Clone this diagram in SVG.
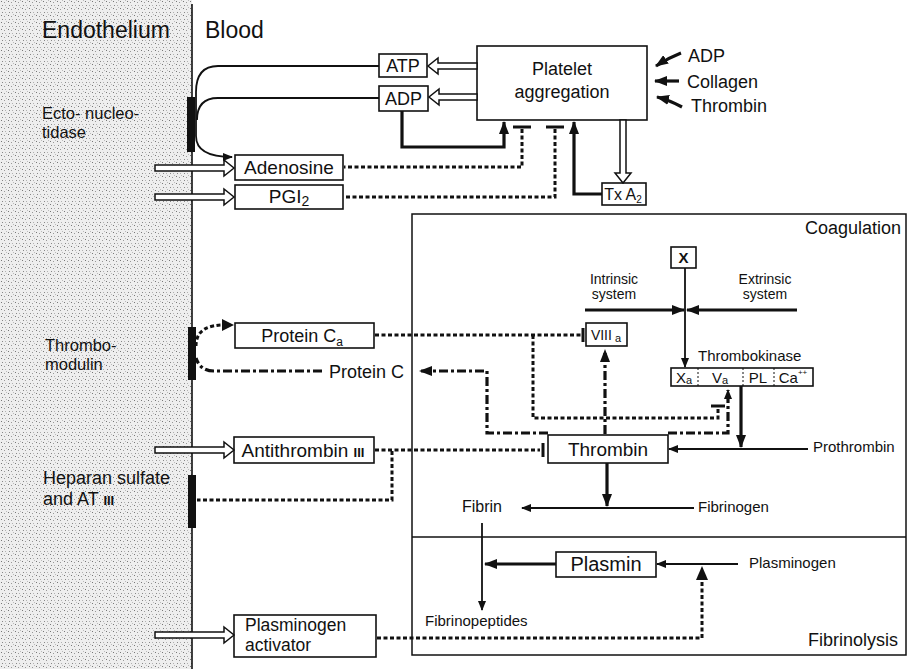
<svg xmlns="http://www.w3.org/2000/svg" width="914" height="669" viewBox="0 0 914 669">
<style>
text{font-family:"Liberation Sans",Arial,Helvetica,sans-serif;fill:#111}
.box{fill:#fff;stroke:#111;stroke-width:1.6}
.thin{fill:none;stroke:#111;stroke-width:1.8}
.thick{fill:none;stroke:#111;stroke-width:3.2}
.dash{fill:none;stroke:#111;stroke-width:3;stroke-dasharray:4 2.5}
.dd{fill:none;stroke:#111;stroke-width:3.2;stroke-dasharray:9 3 3 3}
.hollow{fill:#fff;stroke:#111;stroke-width:1.5;stroke-linejoin:miter}
.bar{fill:#111}
.t{stroke:#111;stroke-width:3}
.c{text-anchor:middle}
</style>
<defs>
<pattern id="stip" width="7" height="7" patternUnits="userSpaceOnUse">
<rect width="7" height="7" fill="#eeeeee"/>
<rect x="1" y="1" width="1" height="1" fill="#777"/>
<rect x="4" y="2" width="1" height="1" fill="#999"/>
<rect x="2" y="5" width="1" height="1" fill="#888"/>
<rect x="5" y="5" width="1" height="1" fill="#b0b0b0"/>
<rect x="6" y="0" width="1" height="1" fill="#bbb"/>
</pattern>
<marker id="ah" viewBox="0 0 13 10" refX="12" refY="5" markerWidth="13" markerHeight="10" orient="auto" markerUnits="userSpaceOnUse"><path d="M0,0 L13,5 L0,10 z" fill="#111"/></marker>
<marker id="as" viewBox="0 0 10 8" refX="9" refY="4" markerWidth="10" markerHeight="8" orient="auto" markerUnits="userSpaceOnUse"><path d="M0,0 L10,4 L0,8 z" fill="#111"/></marker>
</defs>

<!-- Endothelium background -->
<rect x="0" y="0" width="192" height="669" fill="url(#stip)"/>
<line x1="192" y1="4" x2="192" y2="669" stroke="#111" stroke-width="1.6"/>

<g id="header">
<text x="42" y="38" font-size="23">Endothelium</text>
<text x="205" y="38" font-size="23">Blood</text>
</g>

<g id="ecto-nucleotidase">
<text x="42" y="119" font-size="16.5">Ecto- nucleo-</text>
<text x="42" y="138" font-size="16.5">tidase</text>
<rect class="bar" x="187" y="97" width="8" height="55"/>
</g>

<g id="thrombomodulin">
<text x="45" y="351" font-size="16.5">Thrombo-</text>
<text x="45" y="370" font-size="16.5">modulin</text>
<rect class="bar" x="188" y="327" width="8" height="53"/>
</g>

<g id="heparan">
<text x="43" y="484" font-size="18">Heparan sulfate</text>
<text x="43" y="505" font-size="18">and  AT <tspan font-size="13" font-weight="bold">III</tspan></text>
<rect class="bar" x="188" y="475" width="8" height="53"/>
</g>

<g id="atp"><rect class="box" x="379" y="54" width="48" height="23"/><text class="c" x="403" y="72" font-size="18">ATP</text></g>
<g id="adp"><rect class="box" x="379" y="86" width="49" height="25"/><text class="c" x="403.5" y="105" font-size="18">ADP</text></g>
<g id="platelet"><rect class="box" x="477" y="46" width="170" height="74"/>
<text class="c" x="562" y="75" font-size="18">Platelet</text>
<text class="c" x="562" y="98" font-size="18">aggregation</text></g>
<g id="txa2"><rect class="box" x="602" y="183" width="44" height="22"/><text class="c" x="623" y="200" font-size="16">Tx A<tspan font-size="10" dy="3">2</tspan></text></g>
<g id="stimuli">
<text x="688" y="62" font-size="18">ADP</text>
<text x="687" y="88" font-size="18">Collagen</text>
<text x="691" y="112" font-size="18">Thrombin</text>
</g>

<g id="adenosine"><rect class="box" x="235" y="155" width="108" height="25"/><text class="c" x="289" y="174" font-size="19">Adenosine</text></g>
<g id="pgi2"><rect class="box" x="235" y="185" width="108" height="24"/><text class="c" x="289" y="203" font-size="19">PGI<tspan font-size="14" dy="3">2</tspan></text></g>

<g id="coagulation-frame">
<rect x="412" y="214" width="494" height="441" fill="none" stroke="#111" stroke-width="1.5"/>
<line x1="412" y1="537" x2="906" y2="537" stroke="#111" stroke-width="1.5"/>
<text x="901" y="234" font-size="18" text-anchor="end">Coagulation</text>
<text x="898" y="646" font-size="18" text-anchor="end">Fibrinolysis</text>
</g>

<g id="x"><rect class="box" x="671" y="247" width="25" height="21"/><text class="c" x="683.5" y="263" font-size="15" font-weight="bold">X</text></g>
<g id="intrinsic"><text class="c" x="614" y="284" font-size="14">Intrinsic</text><text class="c" x="614" y="299" font-size="14">system</text></g>
<g id="extrinsic"><text class="c" x="765" y="284" font-size="14">Extrinsic</text><text class="c" x="765" y="299" font-size="14">system</text></g>

<g id="thrombokinase">
<text x="698" y="361" font-size="15">Thrombokinase</text>
<rect class="box" x="671" y="368" width="142" height="18"/>
<line x1="698" y1="368" x2="698" y2="386" stroke="#111" stroke-width="1" stroke-dasharray="2 2"/>
<line x1="743" y1="368" x2="743" y2="386" stroke="#111" stroke-width="1" stroke-dasharray="2 2"/>
<line x1="774" y1="368" x2="774" y2="386" stroke="#111" stroke-width="1" stroke-dasharray="2 2"/>
<text class="c" x="684" y="383" font-size="15">X<tspan font-size="11" dy="1">a</tspan></text>
<text class="c" x="720" y="383" font-size="15">V<tspan font-size="11" dy="1">a</tspan></text>
<text class="c" x="758" y="383" font-size="15">PL</text>
<text class="c" x="793" y="383" font-size="15">Ca<tspan font-size="8" dy="-8">++</tspan></text>
</g>

<g id="viiia"><rect class="box" x="586" y="323" width="41" height="23"/><text class="c" x="606" y="340" font-size="14">VIII<tspan font-size="11" dy="2"> a</tspan></text></g>
<g id="protein-ca"><rect class="box" x="235" y="323" width="139" height="25"/><text class="c" x="302" y="342" font-size="18">Protein C<tspan font-size="12" dy="4">a</tspan></text></g>
<g id="protein-c"><text x="329" y="378" font-size="18">Protein C</text></g>
<g id="antithrombin"><rect class="box" x="234" y="437" width="140" height="26"/><text class="c" x="303" y="457" font-size="19">Antithrombin <tspan font-size="13" font-weight="bold">III</tspan></text></g>
<g id="thrombin"><rect class="box" x="548" y="435" width="120" height="28"/><text class="c" x="608" y="456" font-size="19">Thrombin</text></g>
<g id="prothrombin"><text x="813" y="452" font-size="15">Prothrombin</text></g>
<g id="fibrin"><text x="462" y="512" font-size="16">Fibrin</text></g>
<g id="fibrinogen"><text x="698" y="512" font-size="15">Fibrinogen</text></g>
<g id="fibrinopeptides"><text x="425" y="626" font-size="15">Fibrinopeptides</text></g>
<g id="plasmin"><rect class="box" x="556" y="552" width="100" height="25"/><text class="c" x="606" y="571" font-size="20">Plasmin</text></g>
<g id="plasminogen"><text x="749" y="568" font-size="15">Plasminogen</text></g>
<g id="plasminogen-activator"><rect class="box" x="234" y="615" width="142" height="42"/>
<text x="245" y="631" font-size="17.5">Plasminogen</text>
<text x="245" y="651" font-size="17.5">activator</text></g>

<g id="connectors">
<path class="hollow" d="M155,165 H224 V160 L234,168 L224,176 V171 H155 Z"/>
<path class="hollow" d="M155,194 H224 V189 L234,197 L224,205 V200 H155 Z"/>
<path class="hollow" d="M155,447 H224 V442 L234,450 L224,458 V453 H155 Z"/>
<path class="hollow" d="M155,632 H224 V627 L234,635 L224,643 V638 H155 Z"/>
<path class="hollow" d="M477,63 H438 V58 L428,66 L438,74 V69 H477 Z"/>
<path class="hollow" d="M477,94 H439 V89 L429,97 L439,105 V100 H477 Z"/>
<path class="hollow" d="M620,120 V173 H615 L623,183 L631,173 H626 V120 Z"/>
<path class="thin" d="M379,66 H218 Q196,66 196,92 V136 Q196,157 232,157" marker-end="url(#as)"/>
<path class="thin" d="M379,98 H218 Q197,98 197,120"/>
<path class="thick" d="M402,111 V147 H504 V122" marker-end="url(#ah)"/>
<path class="thick" d="M602,194 H574 V122" marker-end="url(#ah)"/>
<line class="t" x1="513" y1="127" x2="531" y2="127"/>
<line class="t" x1="546" y1="127" x2="564" y2="127"/>
<path class="dash" d="M522,129 V167 H344"/>
<path class="dash" d="M555,129 V197 H344"/>
<path class="thick" d="M681,53 Q668,58 656,66" marker-end="url(#ah)"/>
<path class="thick" d="M679,81 H655" marker-end="url(#ah)"/>
<path class="thick" d="M682,107 Q669,100 657,97" marker-end="url(#ah)"/>
<path class="thick" d="M585,310 H684" marker-end="url(#ah)"/>
<path class="thick" d="M797,310 H687" marker-end="url(#ah)"/>
<path class="thin" d="M685,268 V367" marker-end="url(#as)"/>
<path class="thick" d="M741,386 V447" marker-end="url(#ah)"/>
<path class="thin" d="M808,449 H669" marker-end="url(#as)"/>
<path class="thick" d="M607,463 V506" marker-end="url(#ah)"/>
<path class="thin" d="M694,508 H522" marker-end="url(#as)"/>
<path class="thin" d="M482,523 V610" marker-end="url(#as)"/>
<path class="thick" d="M556,564 H485" marker-end="url(#ah)"/>
<path class="thin" d="M738,564 H657" marker-end="url(#as)"/>
<path class="dash" d="M377,638 H702 V578"/>
<path d="M696,580 L702,566 L708,580 Z" fill="#111"/>
<path class="dash" d="M375,335 H581"/>
<line class="t" x1="583" y1="328" x2="583" y2="342"/>
<path class="dash" d="M533,335 V418 H718 V408"/>
<line class="t" x1="711" y1="406" x2="725" y2="406"/>
<path class="dd" d="M605,434 V350" marker-end="url(#ah)"/>
<path class="dd" d="M668,433 H728 V390" marker-end="url(#as)"/>
<path class="dd" d="M548,433 H487 V371 H420" marker-end="url(#ah)"/>
<path class="dd" d="M322,371 H214 Q200,371 196,358"/>
<path class="dash" d="M196,346 C196,330 208,325 224,325"/>
<path d="M222,319 L234,325 L222,331 Z" fill="#111"/>
<path class="dash" d="M375,450 H540"/>
<line class="t" x1="543" y1="443" x2="543" y2="457"/>
<path class="dash" d="M392,451 V500 H197"/>
</g>
</svg>
